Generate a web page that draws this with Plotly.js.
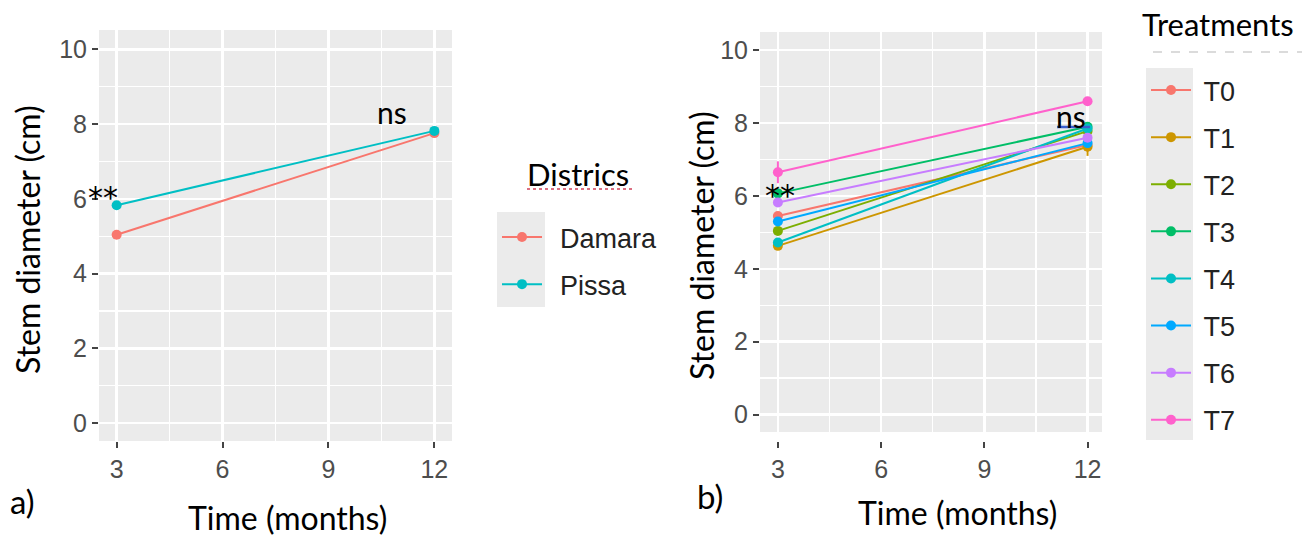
<!DOCTYPE html>
<html>
<head>
<meta charset="utf-8">
<script src="https://cdn.plot.ly/plotly-3.0.1.min.js"></script>
<style>html,body{margin:0;padding:0;background:#fff;}#chart{width:1314px;height:537px;}</style>
</head>
<body>
<div id="chart"></div>
<script>
// ---------- data ----------
var months = [3, 12];
var xTicks = [3, 6, 9, 12];
var yTicks = [0, 2, 4, 6, 8, 10];

var districts = ['Damara', 'Pissa'];
var damara = [5.04, 7.76];
var pissa = [5.83, 7.82];
var damaraErr = [0.08, 0.08];
var pissaErr = [0.08, 0.08];
var districtColors = ['#F8766D', '#00BFC4'];

var treatments = ['T0', 'T1', 'T2', 'T3', 'T4', 'T5', 'T6', 'T7'];
var T0 = [5.45, 7.40];
var T1 = [4.63, 7.35];
var T2 = [5.04, 7.78];
var T3 = [6.07, 7.90];
var T4 = [4.72, 7.85];
var T5 = [5.30, 7.45];
var T6 = [5.82, 7.60];
var T7 = [6.65, 8.60];
var T0err = [0.10, 0.18];
var T1err = [0.10, 0.25];
var T2err = [0.10, 0.10];
var T3err = [0.10, 0.10];
var T4err = [0.10, 0.10];
var T5err = [0.10, 0.12];
var T6err = [0.10, 0.12];
var T7err = [0.30, 0.05];
var treatmentColors = ['#F8766D', '#CD9600', '#7CAE00', '#00BE67', '#00BFC4', '#00A9FF', '#C77CFF', '#FF61CC'];

var sigLabels = ['**', 'ns'];

// ---------- helpers ----------
var W = 1314, H = 537;
function px(x) { return x / W; }
function py(y) { return 1 - y / H; }

var tickFont = {family: 'Liberation Sans, Arial, sans-serif', size: 25, color: '#4D4D4D'};
var titleFontFamily = 'Lato, Carlito, Calibri, sans-serif';

function mkTrace(name, label, ys, errs, color, xa, ya, legendId) {
  return {
    x: months, y: ys, name: label, type: 'scatter', mode: 'lines+markers',
    xaxis: xa, yaxis: ya, legend: legendId, legendgroup: legendId + name,
    line: {color: color, width: 2},
    marker: {color: color, size: 10},
    error_y: {type: 'data', array: errs, visible: true, color: color, thickness: 2, width: 0}
  };
}

// small leading gaps so legend labels sit where the reference puts them
var padL = '\u00A0\u2009';
var padR = '\u00A0';

var traces = [
  mkTrace(districts[0], padL + districts[0], damara, damaraErr, districtColors[0], 'x', 'y', 'legend'),
  mkTrace(districts[1], padL + districts[1], pissa, pissaErr, districtColors[1], 'x', 'y', 'legend')
];
var tVals = [T0, T1, T2, T3, T4, T5, T6, T7];
var tErrs = [T0err, T1err, T2err, T3err, T4err, T5err, T6err, T7err];
for (var i = 0; i < treatments.length; i++) {
  traces.push(mkTrace(treatments[i], padR + treatments[i], tVals[i], tErrs[i], treatmentColors[i], 'x2', 'y2', 'legend2'));
}

function xAxis(domain, range) {
  return {
    domain: domain, range: range, tickvals: xTicks, ticks: 'outside', ticklen: 6, tickwidth: 2,
    tickcolor: '#444', tickfont: tickFont, showgrid: true, gridcolor: '#FFFFFF', gridwidth: 2.5,
    zeroline: false, showline: false, fixedrange: true,
    minor: {tickvals: [4.5, 7.5, 10.5], showgrid: true, gridcolor: '#FFFFFF', gridwidth: 1.3, ticks: ''}
  };
}
function yAxis(domain, range, anchor) {
  return {
    domain: domain, range: range, tickvals: yTicks, ticks: 'outside', ticklen: 6, tickwidth: 2,
    tickcolor: '#444', tickfont: tickFont, showgrid: true, gridcolor: '#FFFFFF', gridwidth: 2.5,
    zeroline: false, showline: false, fixedrange: true, anchor: anchor,
    minor: {tickvals: [1, 3, 5, 7, 9], showgrid: true, gridcolor: '#FFFFFF', gridwidth: 1.3, ticks: ''}
  };
}

var axisTitleFont = {family: titleFontFamily, size: 32, color: '#000'};
var legendTitleFont = {family: titleFontFamily, size: 31, color: '#000'};
var panelFont = {family: titleFontFamily, size: 33, color: '#000'};
var nsFont = {family: titleFontFamily, size: 30, color: '#000'};
var starFont = {family: 'DejaVu Sans, sans-serif', size: 30, color: '#000'};
var legendFont = {family: 'Liberation Sans, Arial, sans-serif', size: 27, color: '#222'};

var annotations = [
  // axis titles
  {text: 'Stem diameter (cm)', xref: 'paper', yref: 'paper', x: px(28), y: py(240), textangle: -90, showarrow: false, font: axisTitleFont, xanchor: 'center', yanchor: 'middle'},
  {text: 'Time (months)', xref: 'paper', yref: 'paper', x: px(287), y: py(517), showarrow: false, font: axisTitleFont, xanchor: 'center', yanchor: 'middle'},
  {text: 'Stem diameter (cm)', xref: 'paper', yref: 'paper', x: px(701), y: py(246), textangle: -90, showarrow: false, font: axisTitleFont, xanchor: 'center', yanchor: 'middle'},
  {text: 'Time (months)', xref: 'paper', yref: 'paper', x: px(957), y: py(512), showarrow: false, font: axisTitleFont, xanchor: 'center', yanchor: 'middle'},
  // panel labels
  {text: 'a)', xref: 'paper', yref: 'paper', x: px(22), y: py(501), showarrow: false, font: panelFont, xanchor: 'center', yanchor: 'middle'},
  {text: 'b)', xref: 'paper', yref: 'paper', x: px(710), y: py(496), showarrow: false, font: panelFont, xanchor: 'center', yanchor: 'middle'},
  // legend titles
  {text: 'Districs', xref: 'paper', yref: 'paper', x: px(578), y: py(174), showarrow: false, font: legendTitleFont, xanchor: 'center', yanchor: 'middle'},
  {text: 'Treatments', xref: 'paper', yref: 'paper', x: px(1218), y: py(24), showarrow: false, font: legendTitleFont, xanchor: 'center', yanchor: 'middle'},
  // significance labels
  {text: sigLabels[0], xref: 'x', yref: 'y', x: 2.62, y: 6.05, showarrow: false, font: starFont, xanchor: 'center', yanchor: 'middle'},
  {text: sigLabels[1], xref: 'x', yref: 'y', x: 10.8, y: 8.32, showarrow: false, font: nsFont, xanchor: 'center', yanchor: 'middle'},
  {text: sigLabels[0], xref: 'x2', yref: 'y2', x: 3.06, y: 6.02, showarrow: false, font: starFont, xanchor: 'center', yanchor: 'middle'},
  {text: sigLabels[1], xref: 'x2', yref: 'y2', x: 11.53, y: 8.2, showarrow: false, font: nsFont, xanchor: 'center', yanchor: 'middle'}
];

var shapes = [
  // legend key backgrounds
  {type: 'rect', xref: 'paper', yref: 'paper', x0: px(497), x1: px(545), y0: py(212), y1: py(307), fillcolor: '#EBEBEB', line: {width: 0}, layer: 'below'},
  {type: 'rect', xref: 'paper', yref: 'paper', x0: px(1146), x1: px(1193), y0: py(68), y1: py(440), fillcolor: '#EBEBEB', line: {width: 0}, layer: 'below'},
  // spell-check style underlines in the source image
  {type: 'line', xref: 'paper', yref: 'paper', x0: px(527), x1: px(632), y0: py(189), y1: py(189), line: {color: '#D0405A', width: 1.5, dash: 'dot'}},
  {type: 'line', xref: 'paper', yref: 'paper', x0: px(1153), x1: px(1302), y0: py(52), y1: py(52), line: {color: '#D0D0D0', width: 1.5, dash: 'dash'}},
  {type: 'line', xref: 'paper', yref: 'paper', x0: px(1057), x1: px(1090), y0: py(127), y1: py(127), line: {color: '#3A5FCD', width: 2.5}}
];

var layout = {
  width: W, height: H,
  margin: {l: 0, r: 0, t: 0, b: 0},
  paper_bgcolor: '#FFFFFF',
  plot_bgcolor: '#EBEBEB',
  showlegend: true,
  xaxis: xAxis([px(99), px(452)], [2.5, 12.5]),
  yaxis: yAxis([py(441), py(30)], [-0.48, 10.52], 'x'),
  xaxis2: xAxis([px(760), px(1102)], [2.48, 12.42]),
  yaxis2: yAxis([py(432), py(32)], [-0.48, 10.5], 'x2'),
  legend: {x: px(497), y: py(213), xanchor: 'left', yanchor: 'top', bgcolor: 'rgba(0,0,0,0)', font: legendFont, tracegroupgap: 9, itemwidth: 40, traceorder: 'grouped'},
  legend2: {x: px(1146), y: py(66), xanchor: 'left', yanchor: 'top', bgcolor: 'rgba(0,0,0,0)', font: legendFont, tracegroupgap: 9, itemwidth: 40, traceorder: 'grouped'},
  annotations: annotations,
  shapes: shapes
};

Plotly.newPlot('chart', traces, layout, {staticPlot: true, displayModeBar: false});
</script>
</body>
</html>
